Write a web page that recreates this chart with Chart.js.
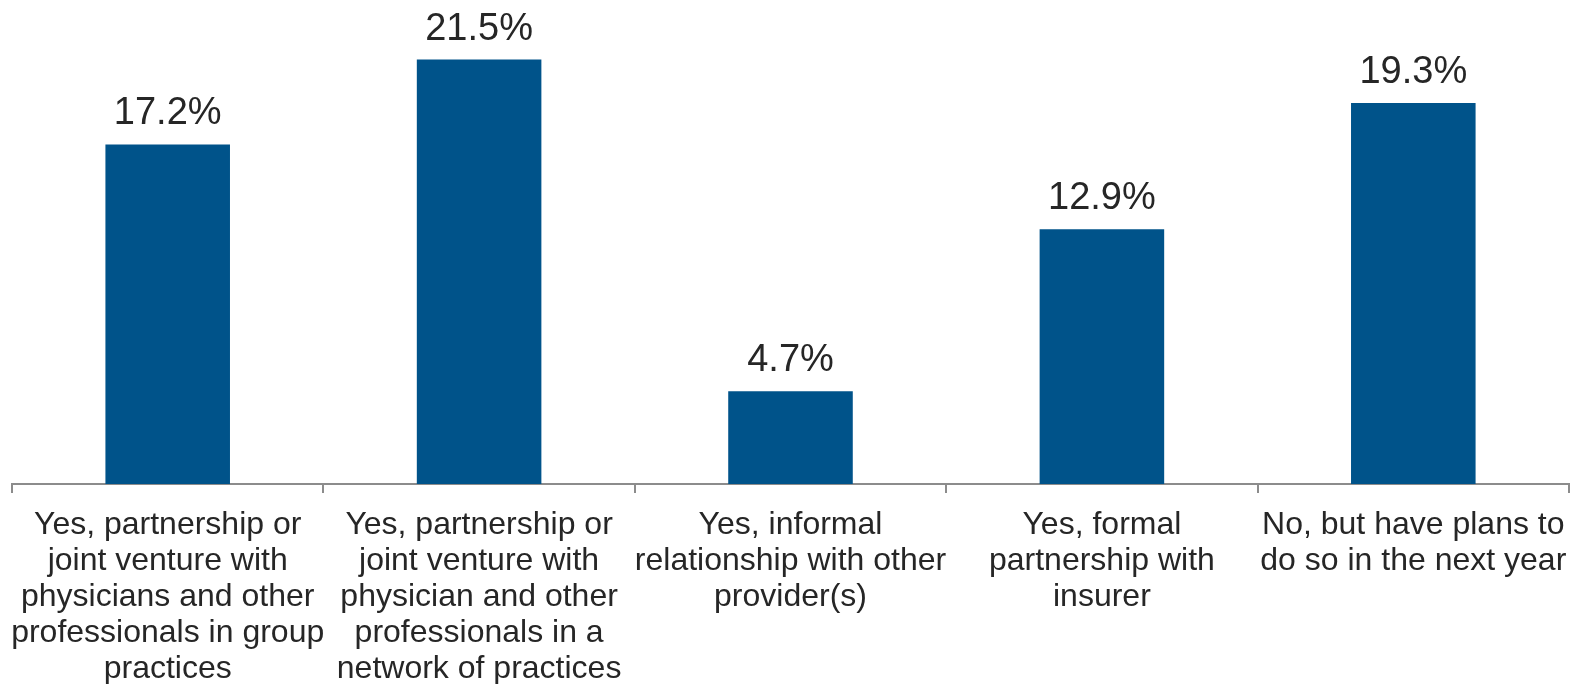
<!DOCTYPE html>
<html><head><meta charset="utf-8">
<script src="https://cdn.jsdelivr.net/npm/chart.js@4/dist/chart.umd.min.js"></script>
<style>html,body{margin:0;padding:0;background:#fff}#wrap{width:1571px;height:684px}</style>
</head><body><div id="wrap"><canvas id="c"></canvas></div>
<script>
const categories = [
  ["Yes, partnership or", "joint venture with", "physicians and other", "professionals in group", "practices"],
  ["Yes, partnership or", "joint venture with", "physician and other", "professionals in a", "network of practices"],
  ["Yes, informal", "relationship with other", "provider(s)"],
  ["Yes, formal", "partnership with", "insurer"],
  ["No, but have plans to", "do so in the next year"]
];
const values = [17.2, 21.5, 4.7, 12.9, 19.3];
const valueLabels = ["17.2%", "21.5%", "4.7%", "12.9%", "19.3%"];

const labelPlugin = {
  id: 'vlabels',
  afterDatasetsDraw(chart) {
    const ctx = chart.ctx;
    const meta = chart.getDatasetMeta(0);
    ctx.save();
    ctx.font = '38px "Liberation Sans", Arial, sans-serif';
    ctx.fillStyle = '#262626';
    ctx.textAlign = 'center';
    ctx.textBaseline = 'alphabetic';
    meta.data.forEach((bar, i) => {
      ctx.fillText(valueLabels[i], bar.x, bar.y - 20);
    });
    ctx.restore();
  }
};

new Chart(document.getElementById('c'), {
  type: 'bar',
  data: {
    labels: categories,
    datasets: [{ data: values, backgroundColor: '#00538A', barPercentage: 0.4, categoryPercentage: 1 }]
  },
  options: {
    responsive: true,
    maintainAspectRatio: false,
    animation: false,
    layout: { padding: { left: 12, right: 2, top: 30, bottom: -17 } },
    plugins: { legend: { display: false }, tooltip: { enabled: false } },
    scales: {
      y: { display: false, min: 0, max: 23 },
      x: {
        afterFit: (scale) => { scale.paddingLeft = 0; scale.paddingRight = 0; },
        grid: { drawOnChartArea: false, drawTicks: true, tickLength: 9, color: '#8c8c8c', lineWidth: 2, offset: true },
        border: { color: '#8c8c8c', width: 2 },
        ticks: {
          autoSkip: false, maxRotation: 0, minRotation: 0, padding: 14,
          color: '#262626',
          font: { family: '"Liberation Sans", Arial, sans-serif', size: 32, lineHeight: 1.125 }
        }
      }
    }
  },
  plugins: [labelPlugin]
});
</script></body></html>
